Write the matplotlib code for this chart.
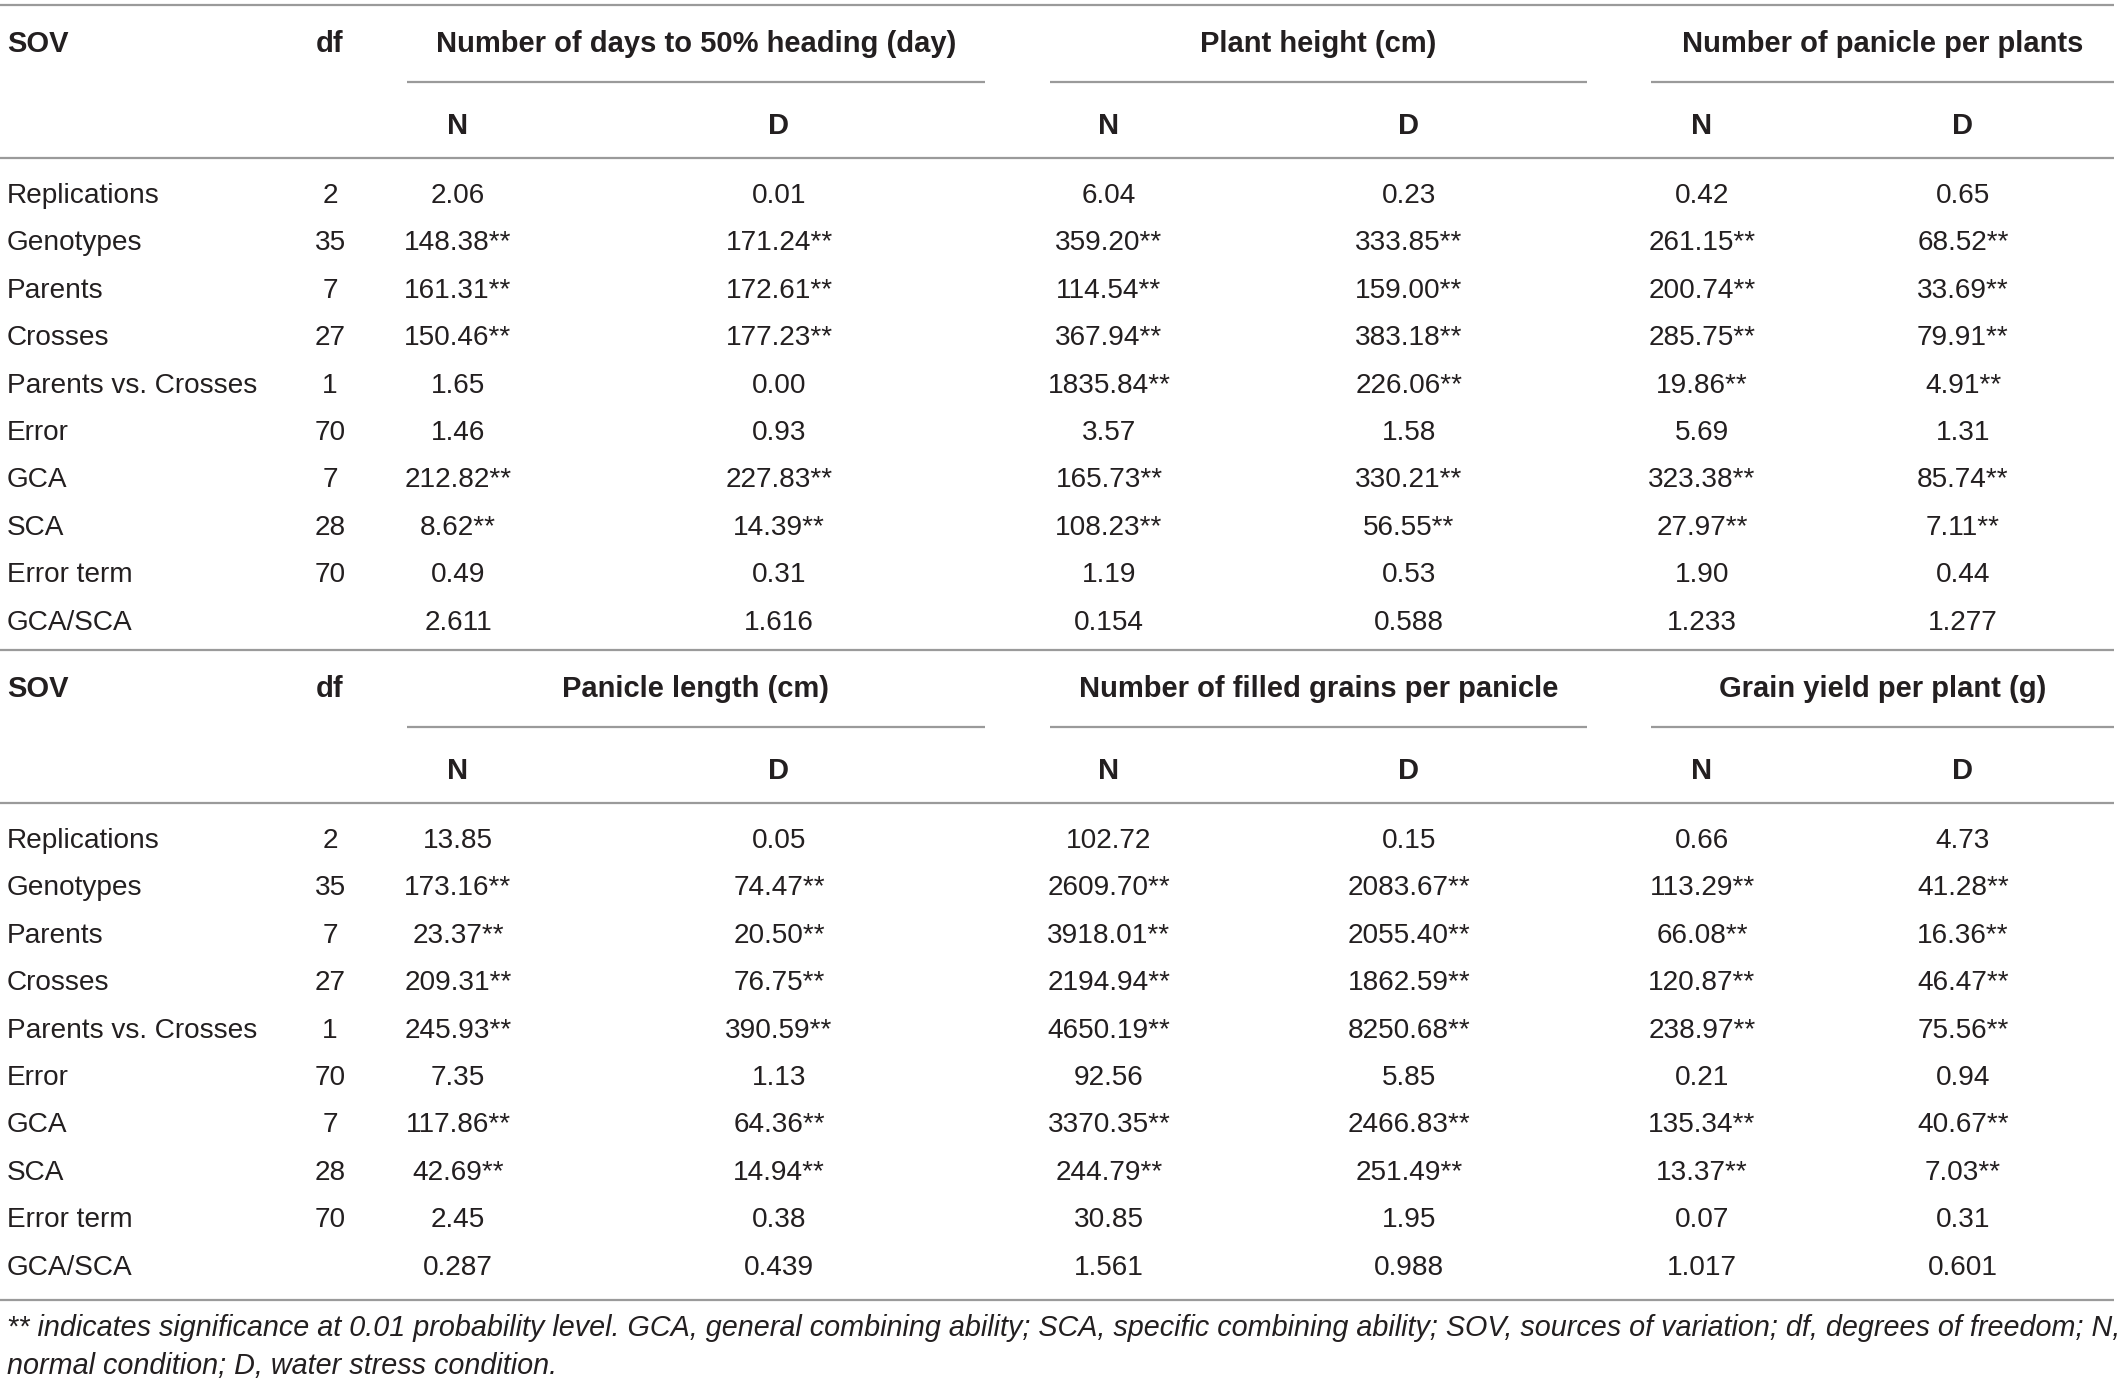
import matplotlib.pyplot as plt

plt.rcParams['font.family'] = ['Liberation Sans', 'DejaVu Sans']

sov = ["Replications", "Genotypes", "Parents", "Crosses", "Parents vs. Crosses",
       "Error", "GCA", "SCA", "Error term", "GCA/SCA"]
dfree = ["2", "35", "7", "27", "1", "70", "7", "28", "70", ""]

traits_top = ["Number of days to 50% heading (day)", "Plant height (cm)",
              "Number of panicle per plants"]
traits_bottom = ["Panicle length (cm)", "Number of filled grains per panicle",
                 "Grain yield per plant (g)"]

heading_n = ["2.06", "148.38**", "161.31**", "150.46**", "1.65", "1.46", "212.82**", "8.62**", "0.49", "2.611"]
heading_d = ["0.01", "171.24**", "172.61**", "177.23**", "0.00", "0.93", "227.83**", "14.39**", "0.31", "1.616"]
height_n = ["6.04", "359.20**", "114.54**", "367.94**", "1835.84**", "3.57", "165.73**", "108.23**", "1.19", "0.154"]
height_d = ["0.23", "333.85**", "159.00**", "383.18**", "226.06**", "1.58", "330.21**", "56.55**", "0.53", "0.588"]
panicle_n = ["0.42", "261.15**", "200.74**", "285.75**", "19.86**", "5.69", "323.38**", "27.97**", "1.90", "1.233"]
panicle_d = ["0.65", "68.52**", "33.69**", "79.91**", "4.91**", "1.31", "85.74**", "7.11**", "0.44", "1.277"]

plength_n = ["13.85", "173.16**", "23.37**", "209.31**", "245.93**", "7.35", "117.86**", "42.69**", "2.45", "0.287"]
plength_d = ["0.05", "74.47**", "20.50**", "76.75**", "390.59**", "1.13", "64.36**", "14.94**", "0.38", "0.439"]
grains_n = ["102.72", "2609.70**", "3918.01**", "2194.94**", "4650.19**", "92.56", "3370.35**", "244.79**", "30.85", "1.561"]
grains_d = ["0.15", "2083.67**", "2055.40**", "1862.59**", "8250.68**", "5.85", "2466.83**", "251.49**", "1.95", "0.988"]
yield_n = ["0.66", "113.29**", "66.08**", "120.87**", "238.97**", "0.21", "135.34**", "13.37**", "0.07", "1.017"]
yield_d = ["4.73", "41.28**", "16.36**", "46.47**", "75.56**", "0.94", "40.67**", "7.03**", "0.31", "0.601"]

footnote = ["** indicates significance at 0.01 probability level. GCA, general combining ability; "
            "SCA, specific combining ability; SOV, sources of variation; df, degrees of freedom; N,",
            "normal condition; D, water stress condition."]

W, H = 2118, 1384
TXT = "#231f20"
LINE = "#9a9a9a"
FS = 20.2      # body
FS_HEAD = 21   # bold headers
FS_NOTE = 20.7 # footnote
DY = 4         # small downward nudge of text

fig = plt.figure(figsize=(W / 100, H / 100), dpi=100)
ax = fig.add_axes([0, 0, 1, 1])
ax.set_xlim(0, W)
ax.set_ylim(H, 0)
ax.axis("off")

sov_x = 7
df_x = 330
spans = [(407, 985), (1050, 1587), (1651, 2114)]
col_n = [458, 1109, 1702]
col_d = [779, 1409, 1963]
row_h = 47.4


def hline(y, x0=0, x1=2114):
    ax.plot([x0, x1], [y, y], color=LINE, lw=1.6, solid_capstyle="butt")


def draw_block(y0, traits, cols):
    # header
    hy = y0 + 40 + DY
    ax.text(sov_x, hy, "SOV", fontsize=FS_HEAD, fontweight="bold", color=TXT, va="center")
    ax.text(df_x, hy, "df", fontsize=FS_HEAD, fontweight="bold", color=TXT, va="center", ha="center")
    for (x0, x1), trait, xn, xd in zip(spans, traits, col_n, col_d):
        ax.text((x0 + x1) / 2, hy, trait, fontsize=FS_HEAD, fontweight="bold",
                color=TXT, va="center", ha="center")
        hline(y0 + 82, x0, x1)
        ax.text(xn, y0 + 122 + DY, "N", fontsize=FS_HEAD, fontweight="bold", color=TXT, va="center", ha="center")
        ax.text(xd, y0 + 122 + DY, "D", fontsize=FS_HEAD, fontweight="bold", color=TXT, va="center", ha="center")
    hline(y0 + 158)
    # body
    xs = [c for pair in zip(col_n, col_d) for c in pair]
    for i, (name, d) in enumerate(zip(sov, dfree)):
        y = y0 + 192 + DY + i * row_h
        ax.text(sov_x, y, name, fontsize=FS, color=TXT, va="center")
        ax.text(df_x, y, d, fontsize=FS, color=TXT, va="center", ha="center")
        for x, col in zip(xs, cols):
            ax.text(x, y, col[i], fontsize=FS, color=TXT, va="center", ha="center")


hline(5)
draw_block(0, traits_top, [heading_n, heading_d, height_n, height_d, panicle_n, panicle_d])
hline(650)
draw_block(645, traits_bottom, [plength_n, plength_d, grains_n, grains_d, yield_n, yield_d])
hline(1300)

for i, line in enumerate(footnote):
    ax.text(sov_x, 1328 + i * 38, line, fontsize=FS_NOTE, style="italic", color=TXT, va="center")

fig.savefig("out.png", dpi=100)
